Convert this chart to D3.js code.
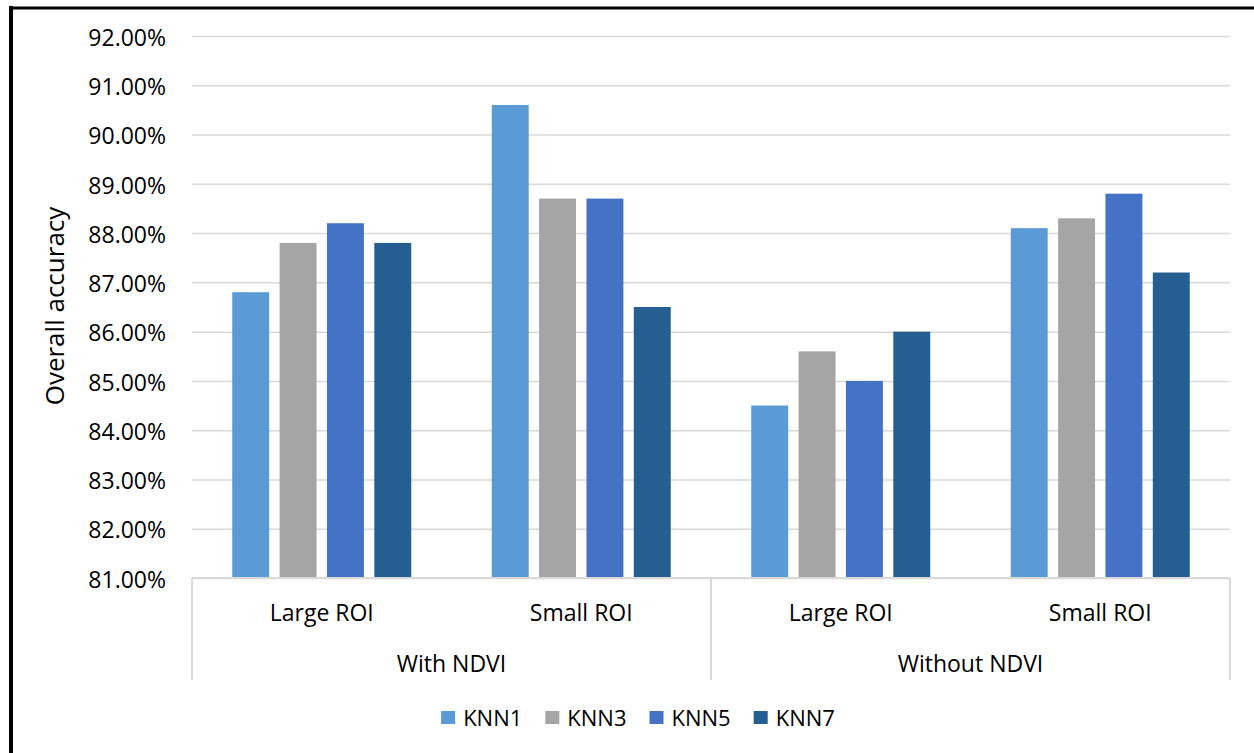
<!DOCTYPE html>
<html>
<head>
<meta charset="utf-8">
<script src="https://cdn.jsdelivr.net/npm/d3@7"></script>
<style>
  html, body { margin: 0; padding: 0; background: #fff; }
  svg { display: block; }
  text { font-family: "Open Sans", "Noto Sans", sans-serif; fill: #000; }
</style>
</head>
<body>
<svg id="chart" width="1254" height="753"></svg>
<script>
// Groups on the outer axis level and ROI sizes on the inner level
const groups = ["With NDVI", "Without NDVI"];
const rois = ["Large ROI", "Small ROI"];
const seriesNames = ["KNN1", "KNN3", "KNN5", "KNN7"];

// Overall accuracy per series, in order: With/Large, With/Small, Without/Large, Without/Small
const knn1 = [0.868, 0.906, 0.845, 0.881];
const knn3 = [0.878, 0.887, 0.856, 0.883];
const knn5 = [0.882, 0.887, 0.850, 0.888];
const knn7 = [0.878, 0.865, 0.860, 0.872];

const yTicks = [0.81, 0.82, 0.83, 0.84, 0.85, 0.86, 0.87, 0.88, 0.89, 0.90, 0.91, 0.92];
const colors = ["#5B9BD5", "#A5A5A5", "#4472C4", "#255E91"];

const seriesValues = [knn1, knn3, knn5, knn7];
const categories = [];
groups.forEach(g => rois.forEach(r => categories.push({ group: g, roi: r, key: g + "|" + r })));

const svg = d3.select("#chart");
const plot = { left: 192, right: 1230, top: 36, bottom: 578 };
const gridColor = "#D9D9D9";

const y = d3.scaleLinear().domain([0.81, 0.92]).range([plot.bottom, plot.top]);
const xGroup = d3.scaleBand().domain(groups).range([plot.left, plot.right]);
const xCat = d3.scaleBand().domain(categories.map(c => c.key)).range([plot.left, plot.right]);
const xSeries = d3.scaleBand().domain(seriesNames).range([0, xCat.bandwidth()])
  .paddingInner(0.22).paddingOuter(0.85);
const color = d3.scaleOrdinal().domain(seriesNames).range(colors);

// Outer frame edges
svg.append("line").attr("x1", 11).attr("x2", 11).attr("y1", 6).attr("y2", 753)
  .attr("stroke", "#000").attr("stroke-width", 4);
svg.append("line").attr("x1", 9).attr("x2", 1254).attr("y1", 8).attr("y2", 8)
  .attr("stroke", "#000").attr("stroke-width", 3);

// Gridlines and value axis labels
const yAxis = d3.axisLeft(y).tickValues(yTicks).tickFormat(d3.format(".2%"))
  .tickSize(-(plot.right - plot.left)).tickPadding(26);
const yg = svg.append("g").attr("transform", `translate(${plot.left},0)`).call(yAxis);
yg.select(".domain").remove();
yg.selectAll(".tick line").attr("stroke", gridColor).attr("stroke-width", 1.5);
yg.selectAll(".tick text")
  .attr("font-size", 23).attr("fill", "#000").attr("dy", "0.4em")
  .style("font-family", "'Open Sans', sans-serif");

// Bars
const rows = [];
categories.forEach((c, ci) => seriesNames.forEach((s, si) =>
  rows.push({ cat: c.key, series: s, value: seriesValues[si][ci] })));

svg.append("g").selectAll("rect").data(rows).join("rect")
  .attr("x", d => xCat(d.cat) + xSeries(d.series))
  .attr("width", xSeries.bandwidth())
  .attr("y", d => y(d.value))
  .attr("height", d => y(0.81) - y(d.value))
  .attr("fill", d => color(d.series));

// Category axis: baseline, group separators, labels
svg.append("line").attr("x1", plot.left).attr("x2", plot.right)
  .attr("y1", plot.bottom).attr("y2", plot.bottom)
  .attr("stroke", gridColor).attr("stroke-width", 2);

const sepX = groups.map(g => xGroup(g)).concat([plot.right]);
svg.append("g").selectAll("line").data(sepX).join("line")
  .attr("x1", d => d).attr("x2", d => d)
  .attr("y1", plot.bottom).attr("y2", 680)
  .attr("stroke", gridColor).attr("stroke-width", 2);

svg.append("g").selectAll("text").data(categories).join("text")
  .attr("x", d => xCat(d.key) + xCat.bandwidth() / 2)
  .attr("y", 613).attr("dy", "0.35em")
  .attr("text-anchor", "middle").attr("font-size", 23)
  .text(d => d.roi);

svg.append("g").selectAll("text").data(groups).join("text")
  .attr("x", d => xGroup(d) + xGroup.bandwidth() / 2)
  .attr("y", 664).attr("dy", "0.35em")
  .attr("text-anchor", "middle").attr("font-size", 23)
  .text(d => d);

// Value axis title
svg.append("text")
  .attr("transform", "translate(55,306) rotate(-90)")
  .attr("text-anchor", "middle").attr("dy", "0.35em")
  .attr("font-size", 26)
  .text("Overall accuracy");

// Legend, centred under the plot
const legend = svg.append("g");
const items = legend.selectAll("g").data(seriesNames).join("g");
items.append("rect").attr("width", 14).attr("height", 13).attr("y", 711)
  .attr("fill", d => color(d));
items.append("text").attr("x", 22).attr("y", 718).attr("dy", "0.36em")
  .attr("font-size", 22).text(d => d);

let offset = 0;
const offsets = [];
items.each(function () {
  offsets.push(offset);
  const w = d3.select(this).select("text").node().getComputedTextLength();
  offset += 22 + w + 23;
});
const totalW = offset - 23;
const startX = 638 - totalW / 2;
items.attr("transform", (d, i) => `translate(${startX + offsets[i]},0)`);
</script>
</body>
</html>
